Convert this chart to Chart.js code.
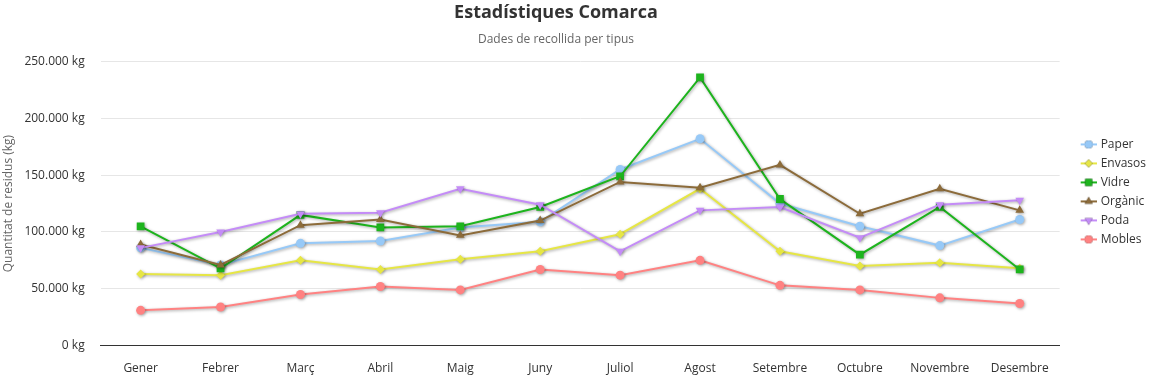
<!DOCTYPE html>
<html>
<head>
<meta charset="utf-8">
<script src="https://cdn.jsdelivr.net/npm/chart.js@4/dist/chart.umd.min.js"></script>
<style>
  html, body { margin: 0; padding: 0; background: #fff; }
  #wrap { width: 1156px; height: 379px; position: relative; }
</style>
</head>
<body>
<div id="wrap"><canvas id="c" width="1156" height="379"></canvas></div>
<script>
const categories = ['Gener','Febrer','Març','Abril','Maig','Juny','Juliol','Agost','Setembre','Octubre','Novembre','Desembre'];
const paper   = [86000, 71000, 90000, 92000, 104000, 109000, 155000, 182000, 125000, 105000, 88000, 111000];
const envasos = [63000, 62000, 75000, 67000, 76000, 83000, 98000, 138000, 83000, 70000, 73000, 68000];
const vidre   = [105000, 68000, 115000, 104000, 105000, 122000, 149000, 236000, 129000, 80000, 122000, 67000];
const organic = [89000, 71000, 106000, 111000, 97000, 110000, 144000, 139000, 159000, 116000, 138000, 119000];
const poda    = [86000, 100000, 116000, 117000, 138000, 124000, 83000, 119000, 122000, 95000, 124000, 128000];
const mobles  = [31000, 34000, 45000, 52000, 49000, 67000, 62000, 75000, 53000, 49000, 42000, 37000];
const yTicks  = [0, 50000, 100000, 150000, 200000, 250000];

const FONT = '"Open Sans", "Noto Sans", sans-serif';

const seriesDefs = [
  { label: 'Paper',   data: paper,   color: '#97c9f7', style: 'circle',   radius: 4.5, rot: 0 },
  { label: 'Envasos', data: envasos, color: '#e6e645', style: 'rectRot',  radius: 4.5, rot: 0 },
  { label: 'Vidre',   data: vidre,   color: '#1db41d', style: 'rect',     radius: 5.5, rot: 0 },
  { label: 'Orgànic', data: organic, color: '#8c6b3a', style: 'triangle', radius: 5,   rot: 0 },
  { label: 'Poda',    data: poda,    color: '#c48cf7', style: 'triangle', radius: 5,   rot: 180 },
  { label: 'Mobles',  data: mobles,  color: '#ff8282', style: 'circle',   radius: 4.5, rot: 0 }
];

function legendIcon(def) {
  const W = 32, H = 12;
  const cv = document.createElement('canvas');
  cv.width = W; cv.height = H;
  const ctx = cv.getContext('2d');
  ctx.strokeStyle = def.color;
  ctx.lineWidth = 2;
  ctx.beginPath();
  ctx.moveTo(16, H / 2);
  ctx.lineTo(32, H / 2);
  ctx.stroke();
  Chart.helpers.drawPoint(ctx, {
    pointStyle: def.style,
    radius: def.radius * 0.9,
    rotation: def.rot,
    borderWidth: 0
  }, 24, H / 2);
  ctx.fillStyle = def.color;
  ctx.fill();
  return cv;
}

const shadowPlugin = {
  id: 'shadow',
  beforeDatasetDraw(chart) {
    const c = chart.ctx;
    c.save();
    c.shadowColor = 'rgba(0,0,0,0.35)';
    c.shadowBlur = 3;
    c.shadowOffsetX = 1;
    c.shadowOffsetY = 1;
  },
  afterDatasetDraw(chart) {
    chart.ctx.restore();
  }
};

function fmt(v) {
  return String(v).replace(/\B(?=(\d{3})+(?!\d))/g, '.') + ' kg';
}

const datasets = seriesDefs.map((d, i) => ({
  label: d.label,
  data: d.data,
  borderColor: d.color,
  backgroundColor: d.color,
  pointBackgroundColor: d.color,
  pointBorderColor: d.color,
  pointBorderWidth: 0,
  pointStyle: d.style,
  pointRadius: d.radius,
  pointRotation: d.rot,
  borderWidth: 2,
  tension: 0,
  order: seriesDefs.length - i
}));

const chart = new Chart(document.getElementById('c'), {
  type: 'line',
  data: { labels: categories, datasets },
  plugins: [shadowPlugin],
  options: {
    responsive: false,
    animation: false,
    devicePixelRatio: 1,
    layout: { padding: { left: -44, right: 0, top: 0, bottom: -13 } },
    plugins: {
      title: {
        display: true,
        text: 'Estadístiques Comarca',
        color: '#333333',
        font: { family: FONT, size: 18, weight: 'bold' },
        padding: { top: 2, bottom: 9 }
      },
      subtitle: {
        display: true,
        text: 'Dades de recollida per tipus',
        color: '#666666',
        font: { family: FONT, size: 12 },
        padding: { top: 0, bottom: 14.5 }
      },
      legend: {
        display: true,
        position: 'right',
        align: 'start',
        title: { display: true, text: '', font: { size: 12 }, padding: { top: 117, bottom: 0 } },
        labels: {
          usePointStyle: true,
          pointStyleWidth: 28,
          padding: 7,
          color: '#333333',
          font: { family: FONT, size: 12 },
          generateLabels(ch) {
            return seriesDefs.map((d, i) => ({
              text: d.label,
              fillStyle: d.color,
              strokeStyle: d.color,
              lineWidth: 0,
              pointStyle: legendIcon(d),
              hidden: false,
              datasetIndex: i,
              fontColor: '#333333'
            }));
          }
        }
      },
      tooltip: { enabled: false }
    },
    scales: {
      x: {
        offset: true,
        grid: { display: false, drawTicks: false },
        border: { display: true, color: '#333333', width: 1 },
        ticks: { color: '#333333', font: { family: FONT, size: 12 }, padding: 16, maxRotation: 0, autoSkip: false }
      },
      y: {
        min: 0,
        max: 250000,
        afterBuildTicks(axis) { axis.ticks = yTicks.map(v => ({ value: v })); },
        grid: { color: '#e6e6e6', drawTicks: false, lineWidth: 1 },
        border: { display: false },
        ticks: { color: '#333333', font: { family: FONT, size: 12 }, padding: 16, callback: v => fmt(v) },
        title: {
          display: true,
          text: 'Quantitat de residus (kg)',
          color: '#666666',
          font: { family: FONT, size: 12 },
          padding: { top: 45, bottom: -7 }
        }
      }
    }
  }
});
</script>
</body>
</html>
